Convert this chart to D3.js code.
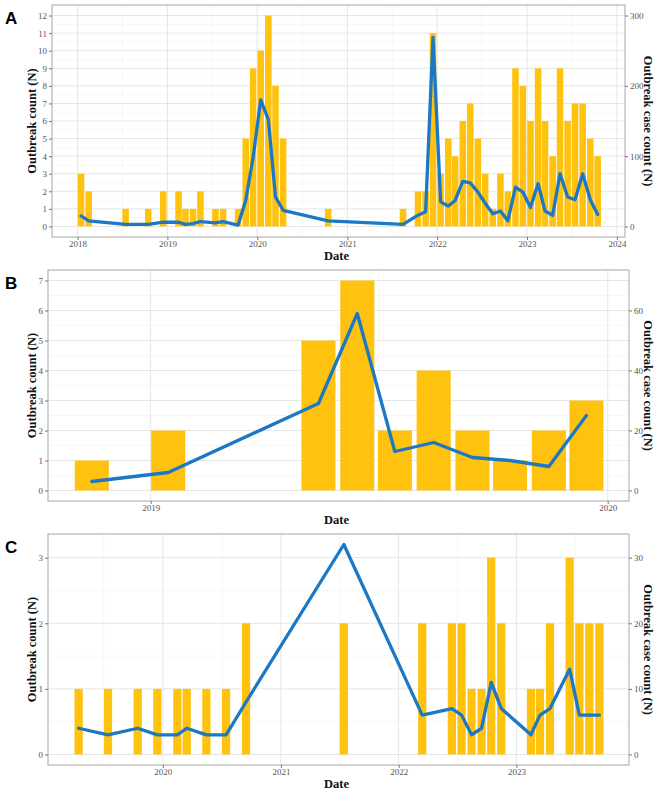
<!DOCTYPE html>
<html>
<head>
<meta charset="utf-8">
<script src="https://cdn.jsdelivr.net/npm/d3@7"></script>
<style>
  html, body { margin: 0; padding: 0; background: #fff; }
  svg { display: block; }
</style>
</head>
<body>
<script>
// ---------------- DATA ----------------
// Panel A
const monthsA = ["2018-01","2018-02","2018-07","2018-10","2018-12","2019-02","2019-03","2019-04","2019-05","2019-07","2019-08","2019-10","2019-11","2019-12","2020-01","2020-02","2020-03","2020-04","2020-10","2021-08","2021-10","2021-11","2021-12","2022-01","2022-02","2022-03","2022-04","2022-05","2022-06","2022-07","2022-08","2022-09","2022-10","2022-11","2022-12","2023-01","2023-02","2023-03","2023-04","2023-05","2023-06","2023-07","2023-08","2023-09","2023-10"];
const countsA = [3,2,1,1,2,2,1,1,2,1,1,1,5,9,10,12,8,5,1,1,2,2,11,3,5,4,6,7,5,3,1,3,2,9,8,6,9,6,4,9,6,7,7,5,4];
const casesA  = [15,8,3,3,6,6,3,4,7,5,7,2,37,98,180,152,42,23,8,3,16,21,269,35,29,37,64,62,49,33,18,22,8,56,49,27,61,22,16,75,42,38,75,38,17];
const yTicksA = [0,1,2,3,4,5,6,7,8,9,10,11,12];
const y2TicksA = [0,100,200,300];
const xTicksA = ["2018","2019","2020","2021","2022","2023","2024"];

// Panel B
const monthsB = ["2018-11","2019-01","2019-05","2019-06","2019-07","2019-08","2019-09","2019-10","2019-11","2019-12"];
const countsB = [1,2,5,7,2,4,2,1,2,3];
const casesB  = [3,6,29,59,13,16,11,10,8,25];
const yTicksB = [0,1,2,3,4,5,6,7];
const y2TicksB = [0,20,40,60];
const xTicksB = ["2019","2020"];

// Panel C
const monthsC = ["2019-04","2019-07","2019-10","2019-12","2020-02","2020-03","2020-05","2020-07","2020-09","2021-07","2022-03","2022-06","2022-07","2022-08","2022-09","2022-10","2022-11","2023-02","2023-03","2023-04","2023-06","2023-07","2023-08","2023-09"];
const countsC = [1,1,1,1,1,1,1,1,2,2,2,2,2,1,1,3,2,1,1,2,3,2,2,2];
const casesC  = [4,3,4,3,3,4,3,3,8,32,6,7,6,3,4,11,7,3,6,7,13,6,6,6];
const yTicksC = [0,1,2,3];
const y2TicksC = [0,10,20,30];
const xTicksC = ["2020","2021","2022","2023"];

// ---------------- DRAW ----------------
const W = 657, H = 792;
const svg = d3.select("body").append("svg").attr("width", W).attr("height", H);

const BAR = "#FFC20E", LINE = "#1C78C4";
const SERIF = "'Liberation Serif','Times New Roman',serif";
const DAY = 86400000;
const parseM = d3.timeParse("%Y-%m");
const parseY = d3.timeParse("%Y");

function panel(cfg) {
  const g = svg.append("g");
  const x = d3.scaleTime().domain(cfg.xDomain).range([cfg.left, cfg.right]);
  const y = d3.scaleLinear().domain(cfg.yDomain).range([cfg.bottom, cfg.top]);
  const y2 = d3.scaleLinear().domain(cfg.yDomain.map(v => v * cfg.factor)).range([cfg.bottom, cfg.top]);

  // minor gridlines
  const yMinor = cfg.yTicks.map(v => v + 0.5).filter(v => v < cfg.yDomain[1]);
  g.selectAll(".ymin").data(yMinor).enter().append("line")
    .attr("x1", cfg.left).attr("x2", cfg.right)
    .attr("y1", d => y(d)).attr("y2", d => y(d))
    .attr("stroke", "#f2f2f2").attr("stroke-width", 0.6);
  g.selectAll(".xmin").data(cfg.xMinor.map(s => d3.timeParse("%Y-%m-%d")(s))).enter().append("line")
    .attr("x1", d => x(d)).attr("x2", d => x(d))
    .attr("y1", cfg.top).attr("y2", cfg.bottom)
    .attr("stroke", "#f2f2f2").attr("stroke-width", 0.6);
  // major gridlines
  g.selectAll(".ymaj").data(cfg.yTicks).enter().append("line")
    .attr("x1", cfg.left).attr("x2", cfg.right)
    .attr("y1", d => y(d)).attr("y2", d => y(d))
    .attr("stroke", "#e6e6e6").attr("stroke-width", 1);
  g.selectAll(".xmaj").data(cfg.xTicks.map(parseY)).enter().append("line")
    .attr("x1", d => x(d)).attr("x2", d => x(d))
    .attr("y1", cfg.top).attr("y2", cfg.bottom)
    .attr("stroke", "#e6e6e6").attr("stroke-width", 1);

  // bars
  const bars = cfg.months.map((m, i) => ({ d: parseM(m), v: cfg.counts[i], c: cfg.cases[i] }));
  const half = cfg.barDays / 2;
  g.selectAll(".bar").data(bars).enter().append("rect")
    .attr("x", d => x(new Date(+d.d + (cfg.barCenter - half) * DAY)))
    .attr("width", d => x(new Date(+d.d + (cfg.barCenter + half) * DAY)) - x(new Date(+d.d + (cfg.barCenter - half) * DAY)))
    .attr("y", d => y(d.v))
    .attr("height", d => y(0) - y(d.v))
    .attr("fill", BAR);

  // line
  const line = d3.line()
    .x(d => x(new Date(+d.d + cfg.barCenter * DAY)))
    .y(d => y2(d.c));
  g.append("path").datum(bars).attr("d", line)
    .attr("fill", "none").attr("stroke", LINE).attr("stroke-width", 3.3)
    .attr("stroke-linejoin", "round").attr("stroke-linecap", "round");

  // border
  g.append("rect").attr("x", cfg.left).attr("y", cfg.top)
    .attr("width", cfg.right - cfg.left).attr("height", cfg.bottom - cfg.top)
    .attr("fill", "none").attr("stroke", "#a6a6a6").attr("stroke-width", 1);

  // axes
  const styleAxis = sel => {
    sel.select(".domain").remove();
    sel.selectAll(".tick line").attr("stroke", "#777");
    sel.selectAll(".tick text").attr("fill", "#555").style("font-family", SERIF).style("font-size", "9px");
  };
  g.append("g").attr("transform", `translate(${cfg.left},0)`)
    .call(d3.axisLeft(y).tickValues(cfg.yTicks).tickSize(3).tickPadding(2).tickFormat(d3.format("d")))
    .call(styleAxis);
  g.append("g").attr("transform", `translate(${cfg.right},0)`)
    .call(d3.axisRight(y2).tickValues(cfg.y2Ticks).tickSize(3).tickPadding(2).tickFormat(d3.format("d")))
    .call(styleAxis);
  g.append("g").attr("transform", `translate(0,${cfg.bottom})`)
    .call(d3.axisBottom(x).tickValues(cfg.xTicks.map(parseY)).tickSize(3).tickPadding(0.5).tickFormat(d3.timeFormat("%Y")))
    .call(styleAxis);

  // titles
  const midY = (cfg.top + cfg.bottom) / 2;
  g.append("text").attr("transform", `translate(36,${midY}) rotate(-90)`)
    .attr("text-anchor", "middle").style("font-family", SERIF).style("font-weight", "bold")
    .style("font-size", "12.5px").attr("fill", "#111").text("Outbreak count (N)");
  g.append("text").attr("transform", `translate(644,${midY}) rotate(90)`)
    .attr("text-anchor", "middle").style("font-family", SERIF).style("font-weight", "bold")
    .style("font-size", "12.5px").attr("fill", "#111").text("Outbreak case count (N)");
  g.append("text").attr("x", (cfg.left + cfg.right) / 2 - 2).attr("y", cfg.bottom + 23)
    .attr("text-anchor", "middle").style("font-family", SERIF).style("font-weight", "bold")
    .style("font-size", "12.5px").attr("fill", "#111").text("Date");
  g.append("text").attr("x", 5).attr("y", cfg.top + 19)
    .style("font-family", "'Liberation Sans', Arial, sans-serif").style("font-weight", "bold")
    .style("font-size", "17px").attr("fill", "#000").text(cfg.letter);
}

panel({
  letter: "A", left: 52, right: 625, top: 5, bottom: 237,
  xDomain: [new Date(2017, 8, 19), new Date(2024, 1, 3)],
  yDomain: [-0.6, 12.6], factor: 25,
  months: monthsA, counts: countsA, cases: casesA,
  yTicks: yTicksA, y2Ticks: y2TicksA, xTicks: xTicksA,
  xMinor: ["2018-07-02","2019-07-02","2020-07-02","2021-07-02","2022-07-02","2023-07-02"],
  barDays: 26.5, barCenter: 14
});
panel({
  letter: "B", left: 48, right: 629, top: 270, bottom: 501,
  xDomain: [new Date(2018, 9, 11), new Date(2020, 0, 18)],
  yDomain: [-0.35, 7.35], factor: 10,
  months: monthsB, counts: countsB, cases: casesB,
  yTicks: yTicksB, y2Ticks: y2TicksB, xTicks: xTicksB,
  xMinor: ["2019-07-02"],
  barDays: 27.2, barCenter: 14
});
panel({
  letter: "C", left: 48, right: 629, top: 534, bottom: 765,
  xDomain: [new Date(2019, 0, 10), new Date(2023, 11, 16)],
  yDomain: [-0.16, 3.36], factor: 10,
  months: monthsC, counts: countsC, cases: casesC,
  yTicks: yTicksC, y2Ticks: y2TicksC, xTicks: xTicksC,
  xMinor: ["2019-07-02","2020-07-02","2021-07-02","2022-07-02","2023-07-02"],
  barDays: 25.5, barCenter: 14
});
</script>
</body>
</html>
